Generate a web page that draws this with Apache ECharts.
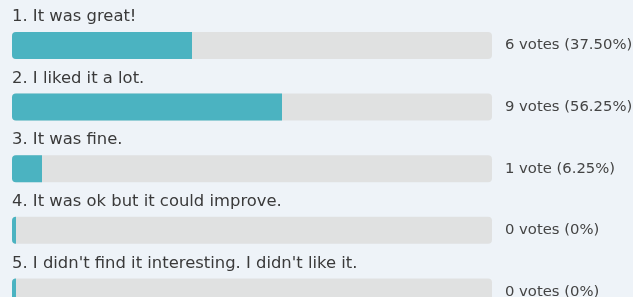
<!DOCTYPE html>
<html lang="en">
<head>
    <meta charset="UTF-8">
    <title>Poll results</title>
    <script src="https://cdn.jsdelivr.net/npm/echarts@6/dist/echarts.min.js"></script>
    <style>
        html, body { margin: 0; padding: 0; background: #eef3f8; }
    </style>
</head>
<body>
    <div id="main" style="width: 633px;height:297px;"></div>
    <script type="text/javascript">
        var questions = [
            '1. It was great!',
            '2. I liked it a lot.',
            '3. It was fine.',
            '4. It was ok but it could improve.',
            "5. I didn't find it interesting. I didn't like it."
        ];
        var votes = [6, 9, 1, 0, 0];
        var voteLabels = ['6 votes (37.50%)', '9 votes (56.25%)', '1 vote (6.25%)', '0 votes (0%)', '0 votes (0%)'];

        var total = votes.reduce(function (a, b) { return a + b; }, 0);
        var percents = votes.map(function (v) { return v / total * 100; });
        var track = questions.map(function () { return 100; });

        var myChart = echarts.init(document.getElementById('main'));

        var option = {
            backgroundColor: '#eef3f8',
            animation: false,
            grid: { left: 12, top: 14.7, width: 480, height: 308, outerBoundsMode: 'none' },
            xAxis: { type: 'value', min: 0, max: 100, show: false },
            yAxis: { type: 'category', data: questions, inverse: true, show: false },
            series: [
                {
                    // grey track with the vote count on the right
                    type: 'bar',
                    data: track,
                    barWidth: 27,
                    itemStyle: { color: '#e0e1e1', borderRadius: 4 },
                    label: {
                        show: true,
                        position: 'right',
                        distance: 13,
                        fontFamily: 'DejaVu Sans',
                        fontSize: 14.8,
                        color: '#444',
                        formatter: function (p) { return voteLabels[p.dataIndex]; }
                    },
                    silent: true
                },
                {
                    // coloured fill with the question above it
                    type: 'bar',
                    data: percents,
                    barWidth: 27,
                    barGap: '-100%',
                    barMinHeight: 4,
                    itemStyle: { color: '#4bb3c1', borderRadius: [4, 0, 0, 4] },
                    label: {
                        show: true,
                        position: [0, -23],
                        fontFamily: 'DejaVu Sans',
                        fontSize: 16.4,
                        color: '#3a3a3a',
                        formatter: function (p) { return questions[p.dataIndex]; }
                    }
                }
            ]
        };

        myChart.setOption(option);
    </script>
</body>
</html>
